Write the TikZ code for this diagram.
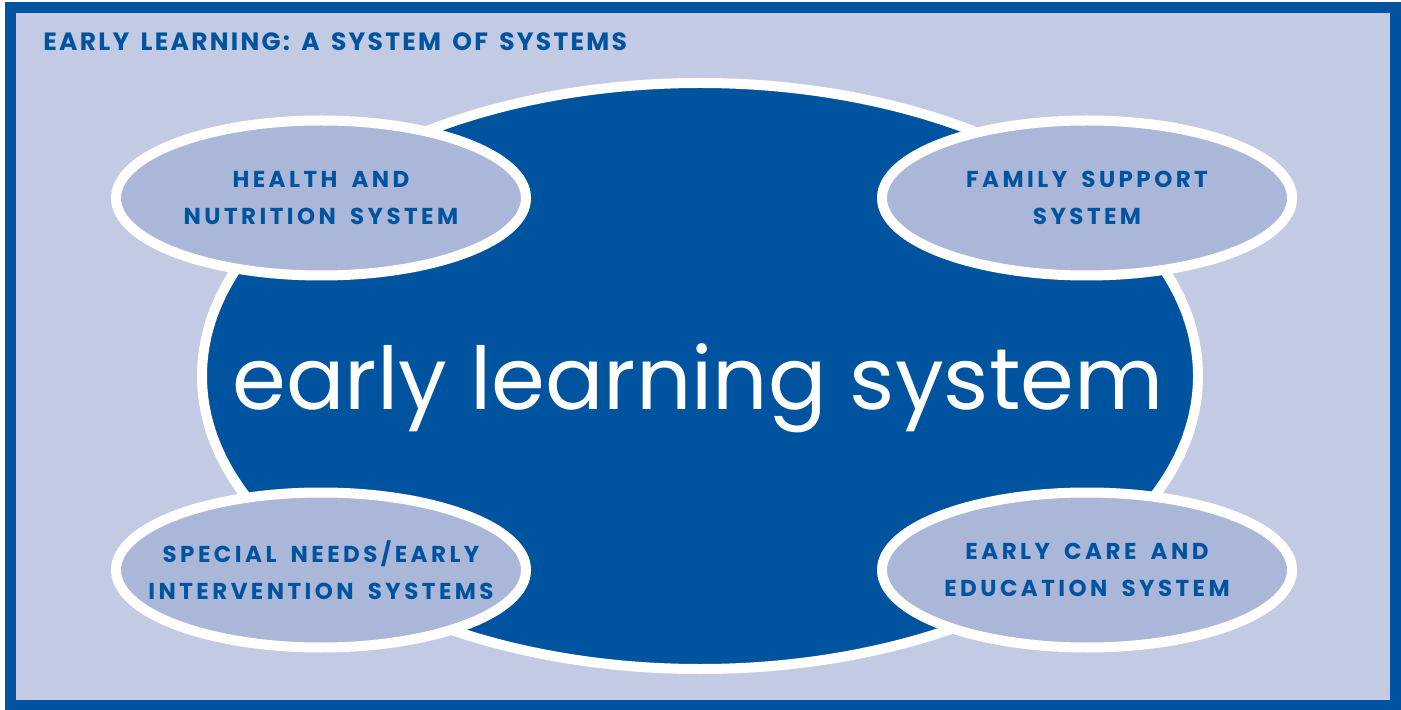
\documentclass[tikz,border=0pt]{standalone}
\usepackage{fontspec}
\setmainfont{Poppins}
\newfontfamily\labelfont{Poppins}[LetterSpace=15, WordSpace=1.7]
\newfontfamily\titlefont{Poppins}[LetterSpace=9, WordSpace=1.5]
\usetikzlibrary{shapes.geometric}
\definecolor{darkblue}{RGB}{0,83,159}
\definecolor{paleblue}{RGB}{195,202,228}
\definecolor{ovalblue}{RGB}{170,183,217}

\begin{document}
\begin{tikzpicture}[x=0.5pt, y=-0.5pt,
    bigoval/.style={ellipse, draw=white, line width=5pt, fill=darkblue, inner sep=0pt},
    sysoval/.style={ellipse, draw=white, line width=5pt, fill=ovalblue, inner xsep=-25pt, inner ysep=0pt,
                    minimum width=205pt, minimum height=77.5pt, text=darkblue, align=center,
                    font=\labelfont\bfseries\fontsize{11.5}{18.5}\selectfont}]
    %frame
    \useasboundingbox (0,0) rectangle (1401,710);
    \fill[darkblue] (5,2) rectangle (1401,710);
    \fill[paleblue] (16,13) rectangle (1390,700);
    \node[anchor=base west, inner sep=0pt, text=darkblue,
          font=\titlefont\bfseries\fontsize{12.5}{15}\selectfont] (title) at (43,51) {EARLY LEARNING: A SYSTEM OF SYSTEMS};
    %systems
    \node[bigoval, minimum width=498pt, minimum height=293pt] (ELS) at (700,376) {};
    \node[anchor=base, inner sep=0pt, text=white, font=\fontsize{43.3}{52}\selectfont] (elstext) at (698,410) {early learning system};
    \node[sysoval] (health) at (321,198) {HEALTH AND\\NUTRITION SYSTEM};
    \node[sysoval] (family) at (1087,198) {FAMILY SUPPORT\\SYSTEM};
    \node[sysoval] (special) at (321,570) {SPECIAL NEEDS/EARLY\\INTERVENTION SYSTEMS};
    \node[sysoval] (care) at (1087,570) {EARLY CARE AND\\EDUCATION SYSTEM};
\end{tikzpicture}
\end{document}
